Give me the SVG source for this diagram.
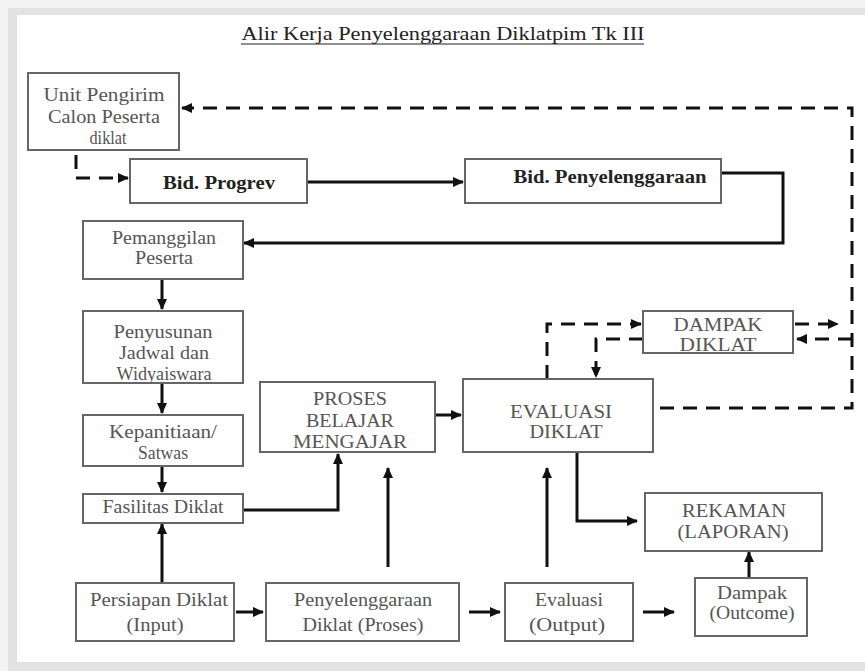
<svg xmlns="http://www.w3.org/2000/svg" width="865" height="671" viewBox="0 0 865 671">
<defs>
<marker id="ah" markerUnits="userSpaceOnUse" markerWidth="11" markerHeight="10" refX="10" refY="5" orient="auto">
<path d="M0,0 L11,5 L0,10 z" fill="#111"/>
</marker>
<style>
.box{fill:#fff;stroke:#666;stroke-width:2}
.t{font-family:"Liberation Serif","DejaVu Serif",serif;font-size:18px;fill:#555;text-anchor:middle}
.b{font-family:"Liberation Serif","DejaVu Serif",serif;font-size:18px;font-weight:bold;fill:#222;text-anchor:middle}
.c{fill:none;stroke:#111;stroke-width:3}
.d{fill:none;stroke:#111;stroke-width:3;stroke-dasharray:14 9}
</style>
</defs>
<rect x="0" y="0" width="865" height="671" fill="#f3f3f3"/>
<rect x="8" y="8" width="857" height="663" fill="#e2e2e2"/>
<rect x="17" y="15" width="848" height="647" fill="#fff"/>
<g id="title">
<text x="443" y="40" style="font-family:'Liberation Serif','DejaVu Serif',serif;font-size:18px;fill:#222;text-anchor:middle" textLength="403" lengthAdjust="spacingAndGlyphs">Alir Kerja Penyelenggaraan Diklatpim Tk III</text>
<line x1="241" y1="44" x2="644" y2="44" stroke="#222" stroke-width="1"/>
</g>
<g id="connectors">
<path class="d" d="M76,155 V178 H128" marker-end="url(#ah)"/>
<path class="c" d="M307,182 H463" marker-end="url(#ah)"/>
<path class="c" d="M721,173 H783 V243 H244" marker-end="url(#ah)"/>
<path class="c" d="M162,279 V309" marker-end="url(#ah)"/>
<path class="c" d="M162,383 V413" marker-end="url(#ah)"/>
<path class="c" d="M162,466 V492" marker-end="url(#ah)"/>
<path class="c" d="M243,510 H338 V454" marker-end="url(#ah)"/>
<path class="c" d="M162,583 V524" marker-end="url(#ah)"/>
<path class="c" d="M388,567 V468" marker-end="url(#ah)"/>
<path class="c" d="M547,567 V468" marker-end="url(#ah)"/>
<path class="c" d="M577,452 V521 H637" marker-end="url(#ah)"/>
<path class="c" d="M749,578 V552" marker-end="url(#ah)"/>
<path class="c" d="M435,415 H461" marker-end="url(#ah)"/>
<path class="c" d="M236,612 H263" marker-end="url(#ah)"/>
<path class="c" d="M469,612 H500" marker-end="url(#ah)"/>
<path class="c" d="M643,612 H674" marker-end="url(#ah)"/>
<path class="d" d="M547,379 V324 H641" marker-end="url(#ah)"/>
<path class="d" d="M643,339 H596 V377" marker-end="url(#ah)"/>
<path class="d" d="M795,324 H838" marker-end="url(#ah)"/>
<path class="d" d="M852,339 H797" marker-end="url(#ah)"/>
<path class="d" d="M660,408 H852 V108 H182" marker-end="url(#ah)"/>
</g>
<g id="unit">
<rect class="box" x="28" y="73" width="151" height="77"/>
<text class="t" x="104" y="101" textLength="121" lengthAdjust="spacingAndGlyphs">Unit  Pengirim</text>
<text class="t" x="104" y="123" textLength="112" lengthAdjust="spacingAndGlyphs">Calon Peserta</text>
<text class="t" x="108" y="144" textLength="37" lengthAdjust="spacingAndGlyphs">diklat</text>
</g>
<g id="progrev">
<rect class="box" x="130" y="159" width="177" height="44"/>
<text class="b" x="219" y="189" textLength="112" lengthAdjust="spacingAndGlyphs">Bid. Progrev</text>
</g>
<g id="penyelenggaraan-bid">
<rect class="box" x="465" y="159" width="256" height="44"/>
<text class="b" x="610" y="183" textLength="193" lengthAdjust="spacingAndGlyphs">Bid. Penyelenggaraan</text>
</g>
<g id="pemanggilan">
<rect class="box" x="83" y="221" width="160" height="58"/>
<text class="t" x="164" y="244" textLength="104" lengthAdjust="spacingAndGlyphs">Pemanggilan</text>
<text class="t" x="164" y="264" textLength="58" lengthAdjust="spacingAndGlyphs">Peserta</text>
</g>
<g id="penyusunan">
<text class="t" x="163" y="338" textLength="99" lengthAdjust="spacingAndGlyphs">Penyusunan</text>
<text class="t" x="164" y="359" textLength="90" lengthAdjust="spacingAndGlyphs">Jadwal dan</text>
<text class="t" x="164" y="380" textLength="95" lengthAdjust="spacingAndGlyphs">Widyaiswara</text>
<rect x="83" y="311" width="160" height="72" fill="none" stroke="#666" stroke-width="2"/>
</g>
<g id="kepanitiaan">
<rect class="box" x="83" y="415" width="160" height="51"/>
<text class="t" x="163" y="438" textLength="108" lengthAdjust="spacingAndGlyphs">Kepanitiaan/</text>
<text class="t" x="163" y="459" textLength="50" lengthAdjust="spacingAndGlyphs">Satwas</text>
</g>
<g id="fasilitas">
<rect class="box" x="83" y="494" width="160" height="29"/>
<text class="t" x="163" y="513" textLength="121" lengthAdjust="spacingAndGlyphs">Fasilitas Diklat</text>
</g>
<g id="proses">
<text class="t" x="350" y="405" textLength="74" lengthAdjust="spacingAndGlyphs">PROSES</text>
<text class="t" x="350" y="427" textLength="88" lengthAdjust="spacingAndGlyphs">BELAJAR</text>
<text class="t" x="350" y="448" textLength="114" lengthAdjust="spacingAndGlyphs">MENGAJAR</text>
<rect x="260" y="382" width="175" height="70" fill="none" stroke="#666" stroke-width="2"/>
</g>
<g id="evaluasi-diklat">
<rect class="box" x="463" y="379" width="190" height="73"/>
<text class="t" x="561" y="418" textLength="102" lengthAdjust="spacingAndGlyphs">EVALUASI</text>
<text class="t" x="566" y="438" textLength="73" lengthAdjust="spacingAndGlyphs">DIKLAT</text>
</g>
<g id="dampak-diklat">
<text class="t" x="718" y="331" textLength="89" lengthAdjust="spacingAndGlyphs">DAMPAK</text>
<text class="t" x="718" y="351" textLength="77" lengthAdjust="spacingAndGlyphs">DIKLAT</text>
<rect x="643" y="311" width="150" height="42" fill="none" stroke="#666" stroke-width="2"/>
</g>
<g id="rekaman">
<rect class="box" x="645" y="493" width="177" height="58"/>
<text class="t" x="734" y="517" textLength="104" lengthAdjust="spacingAndGlyphs">REKAMAN</text>
<text class="t" x="733" y="538" textLength="111" lengthAdjust="spacingAndGlyphs">(LAPORAN)</text>
</g>
<g id="persiapan">
<rect class="box" x="76" y="583" width="158" height="58"/>
<text class="t" x="159" y="606" textLength="138" lengthAdjust="spacingAndGlyphs">Persiapan Diklat</text>
<text class="t" x="155" y="631" textLength="57" lengthAdjust="spacingAndGlyphs">(Input)</text>
</g>
<g id="penyelenggaraan-diklat">
<rect class="box" x="266" y="583" width="193" height="58"/>
<text class="t" x="363" y="606" textLength="138" lengthAdjust="spacingAndGlyphs">Penyelenggaraan</text>
<text class="t" x="363" y="631" textLength="121" lengthAdjust="spacingAndGlyphs">Diklat (Proses)</text>
</g>
<g id="evaluasi-output">
<rect class="box" x="505" y="583" width="128" height="58"/>
<text class="t" x="569" y="606" textLength="68" lengthAdjust="spacingAndGlyphs">Evaluasi</text>
<text class="t" x="567" y="631" textLength="76" lengthAdjust="spacingAndGlyphs">(Output)</text>
</g>
<g id="dampak-outcome">
<rect class="box" x="695" y="578" width="112" height="58"/>
<text class="t" x="752" y="599" textLength="70" lengthAdjust="spacingAndGlyphs">Dampak</text>
<text class="t" x="752" y="619" textLength="85" lengthAdjust="spacingAndGlyphs">(Outcome)</text>
</g>
</svg>
